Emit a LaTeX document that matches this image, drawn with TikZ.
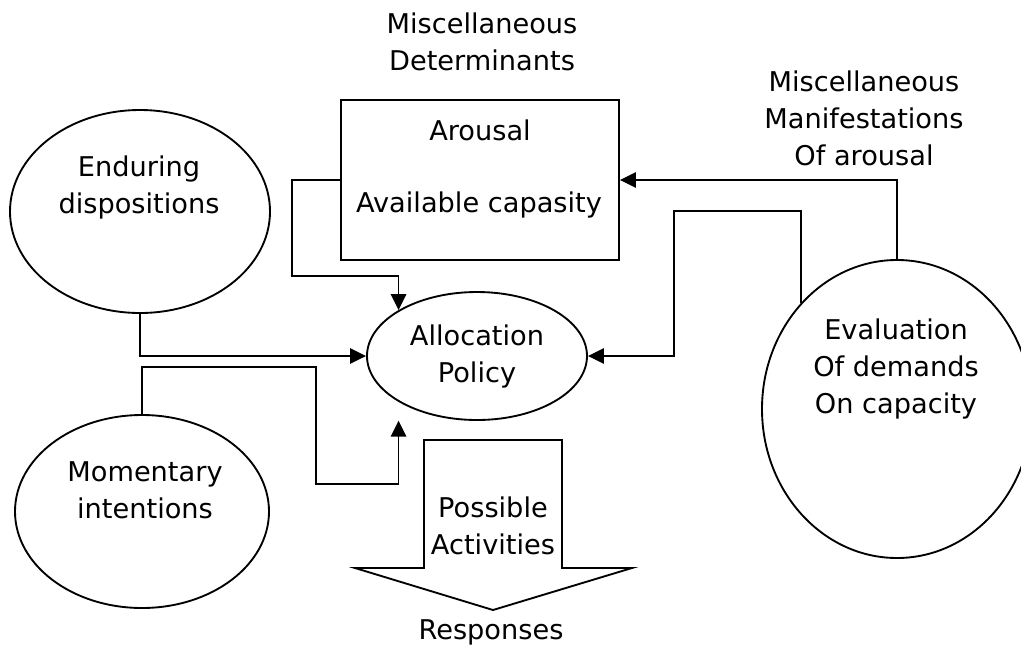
\documentclass[tikz,border=0pt]{standalone}
\usepackage{fontspec}
\setmainfont{DejaVu Sans}
\usetikzlibrary{shapes.geometric,arrows.meta}
\tikzset{
  oval/.style={draw,ellipse,line width=1.4pt,inner sep=0pt},
  txt/.style={align=center,inner sep=0pt,font=\fontsize{20.4pt}{27.75pt}\selectfont},
  link/.style={line width=1.4pt,-{Triangle[length=12pt,width=11.5pt]}},
}
\begin{document}
\begin{tikzpicture}[x=0.75pt,y=-0.75pt]
      \useasboundingbox (0,0) rectangle (1021,651);
      % Nodes: shapes
      \node[oval,minimum width=195pt,minimum height=152.25pt] (endur) at (140,211.5) {};
      \node[oval,minimum width=190.5pt,minimum height=144.75pt] (mom) at (142,511.5) {};
      \node[oval,minimum width=202.5pt,minimum height=223.5pt] (eval) at (897,409) {};
      \node[oval,txt,minimum width=165pt,minimum height=96pt] (alloc) at (477,356) {Allocation\\Policy};
      \node[draw,line width=1.4pt,minimum width=208.5pt,minimum height=120pt] (box) at (480,180) {};
      % Nodes: texts
      \node[txt] (endurtxt) at (139,187) {Enduring\\dispositions};
      \node[txt] (momtxt) at (145,490) {Momentary\\intentions};
      \node[txt] (evaltxt) at (896,369) {Evaluation\\Of demands\\On capacity};
      \node[txt] (arousal) at (480,130) {Arousal};
      \node[txt] (avail) at (479,205) {Available capasity};
      \node[txt] (detlabel) at (482,42) {Miscellaneous\\Determinants};
      \node[txt] (manlabel) at (864,118) {Miscellaneous\\Manifestations\\Of arousal};
      \node[txt] (acts) at (493,526) {Possible\\Activities};
      \node[txt] (resp) at (491,632) {Responses};
      % Block arrow: activities
      \draw[line width=1.4pt] (424,440) -- (562,440) -- (562,568) -- (632,568) -- (493,610)
        -- (355,568) -- (424,568) -- cycle;
      % Arrows: into allocation
      \draw[link] (endur.south) |- (alloc.west);
      \draw[link] (box.west) -- ++(-48,0) -- ++(0,96) -| (alloc.north west);
      \draw[link,shorten >=14pt] (mom.north) -- ++(0,-47) -| ++(174,117) -| (alloc.south west);
      \draw[link] (eval.north west) -- ++(0,-92) -- ++(-127,0) |- (alloc.east);
      % Arrows: to arousal
      \draw[link] (eval.north) |- (box.east);
\end{tikzpicture}
\end{document}
